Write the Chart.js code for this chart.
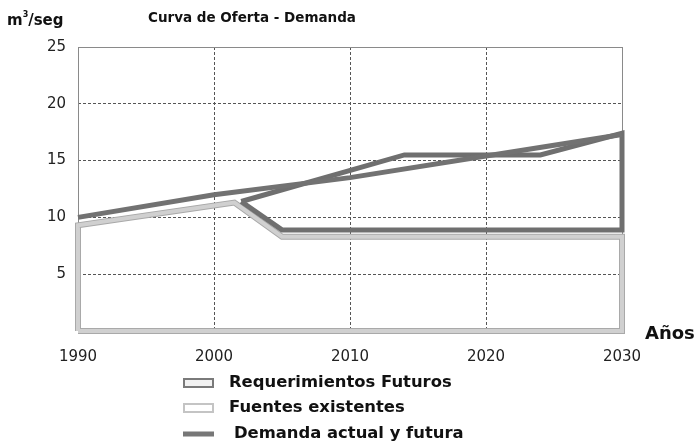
<!DOCTYPE html>
<html>
<head>
<meta charset="utf-8">
<script src="https://cdn.jsdelivr.net/npm/chart.js@4.4.0/dist/chart.umd.min.js"></script>
<style>
    html, body { margin: 0; padding: 0; background: #fff; }
    #wrap { position: relative; width: 698px; height: 443px; }
</style>
</head>
<body>
<div id="wrap"><canvas id="chartOferta" width="698" height="443"></canvas></div>
<script>
const yearTicks = [1990, 2000, 2010, 2020, 2030];
const valueTicks = [5, 10, 15, 20, 25];

// demanda actual y futura
const demandYears = [1990, 2000, 2010, 2020, 2030];
const demandValues = [10, 12, 13.5, 15.4, 17.3];

// requerimientos futuros (contorno cerrado)
const reqYears = [2002, 2014, 2024, 2030, 2030, 2005, 2002];
const reqValues = [11.4, 15.5, 15.5, 17.4, 8.9, 8.9, 11.4];

// fuentes existentes (contorno cerrado)
const sourceYears = [1990, 1990, 2001.5, 2005, 2030, 2030, 1990];
const sourceValues = [0, 9.3, 11.3, 8.3, 8.3, 0, 0];

const legendLabels = ['Requerimientos Futuros', 'Fuentes existentes', 'Demanda actual y futura'];

function toPoints(xs, ys) {
    return xs.map((x, i) => ({ x: x, y: ys[i] }));
}

const boldFont = '"DejaVu Sans", sans-serif';

const decorations = {
    id: 'decorations',
    beforeDatasetsDraw(chart) {
        const ctx = chart.ctx;
        const a = chart.chartArea;
        ctx.save();
        ctx.strokeStyle = '#8a8a8a';
        ctx.lineWidth = 1;
        ctx.strokeRect(a.left + 0.5, a.top + 0.5, a.right - a.left, a.bottom - a.top);
        ctx.restore();
    },
    afterDraw(chart) {
        const ctx = chart.ctx;
        ctx.save();
        ctx.fillStyle = '#111';
        ctx.textBaseline = 'middle';

        // unidades
        ctx.font = 'bold 15px ' + boldFont;
        ctx.fillText('m', 7, 21);
        let w = ctx.measureText('m').width;
        ctx.font = 'bold 8px ' + boldFont;
        ctx.fillText('3', 7 + w, 15);
        let w2 = ctx.measureText('3').width;
        ctx.font = 'bold 15px ' + boldFont;
        ctx.fillText('/seg', 7 + w + w2, 21);

        // titulo
        ctx.font = 'bold 13.5px ' + boldFont;
        ctx.fillText('Curva de Oferta - Demanda', 148, 18);

        // eje x
        ctx.font = 'bold 18px ' + boldFont;
        ctx.fillText('Años', 645, 334);

        // leyenda
        const lx = 183, rows = [383, 408, 434];
        ctx.lineWidth = 2;
        ctx.strokeStyle = '#7a7a7a';
        ctx.fillStyle = '#f2f2f2';
        ctx.fillRect(lx + 1, rows[0] - 4, 29, 8);
        ctx.strokeRect(lx + 1, rows[0] - 4, 29, 8);
        ctx.strokeStyle = '#c4c4c4';
        ctx.fillStyle = '#ffffff';
        ctx.fillRect(lx + 1, rows[1] - 4, 29, 8);
        ctx.strokeRect(lx + 1, rows[1] - 4, 29, 8);
        ctx.fillStyle = '#777777';
        ctx.fillRect(lx, rows[2] - 2.5, 31, 5);

        ctx.fillStyle = '#111';
        ctx.font = 'bold 16.4px ' + boldFont;
        ctx.fillText(legendLabels[0], 229, rows[0]);
        ctx.fillText(legendLabels[1], 229, rows[1]);
        ctx.fillText(legendLabels[2], 234, rows[2]);
        ctx.restore();
    }
};

new Chart(document.getElementById('chartOferta'), {
    type: 'scatter',
    data: {
        datasets: [
            {
                label: legendLabels[2],
                data: toPoints(demandYears, demandValues),
                showLine: true,
                borderColor: '#727272',
                borderWidth: 5,
                pointRadius: 0,
                clip: false,
                order: 1
            },
            {
                label: legendLabels[0],
                data: toPoints(reqYears, reqValues),
                showLine: true,
                borderColor: '#6f6f6f',
                borderWidth: 5,
                borderJoinStyle: 'miter',
                pointRadius: 0,
                clip: false,
                order: 2
            },
            {
                label: legendLabels[1],
                data: toPoints(sourceYears, sourceValues),
                showLine: true,
                borderColor: '#d0d0d0',
                borderWidth: 4,
                borderJoinStyle: 'miter',
                pointRadius: 0,
                clip: false,
                order: 3
            },
            {
                label: legendLabels[1] + ' borde',
                data: toPoints(sourceYears, sourceValues),
                showLine: true,
                borderColor: '#a9a9a9',
                borderWidth: 6,
                borderJoinStyle: 'miter',
                pointRadius: 0,
                clip: false,
                order: 4
            }
        ]
    },
    options: {
        responsive: false,
        animation: false,
        layout: {
            padding: { top: 47, right: 76, left: 0, bottom: 0 }
        },
        plugins: {
            legend: { display: false },
            tooltip: { enabled: false }
        },
        scales: {
            x: {
                type: 'linear',
                min: 1990,
                max: 2030,
                afterBuildTicks: (axis) => { axis.ticks = yearTicks.map(v => ({ value: v })); },
                afterFit: (axis) => { axis.height = 112; },
                grid: {
                    color: '#555',
                    lineWidth: 1,
                    drawTicks: false
                },
                border: { display: false, dash: [3, 2] },
                ticks: {
                    padding: 17,
                    color: '#222',
                    font: { family: 'DejaVu Sans', size: 15 },
                    callback: (v) => String(v)
                }
            },
            y: {
                min: 0,
                max: 25,
                afterBuildTicks: (axis) => { axis.ticks = [0].concat(valueTicks).map(v => ({ value: v })); },
                afterFit: (axis) => { axis.width = 78; },
                grid: {
                    color: '#555',
                    lineWidth: 1,
                    drawTicks: false
                },
                border: { display: false, dash: [3, 2] },
                ticks: {
                    padding: 12,
                    color: '#222',
                    font: { family: 'DejaVu Sans', size: 15 },
                    callback: (v) => (v === 0 ? '' : String(v))
                }
            }
        }
    },
    plugins: [decorations]
});
</script>
</body>
</html>
